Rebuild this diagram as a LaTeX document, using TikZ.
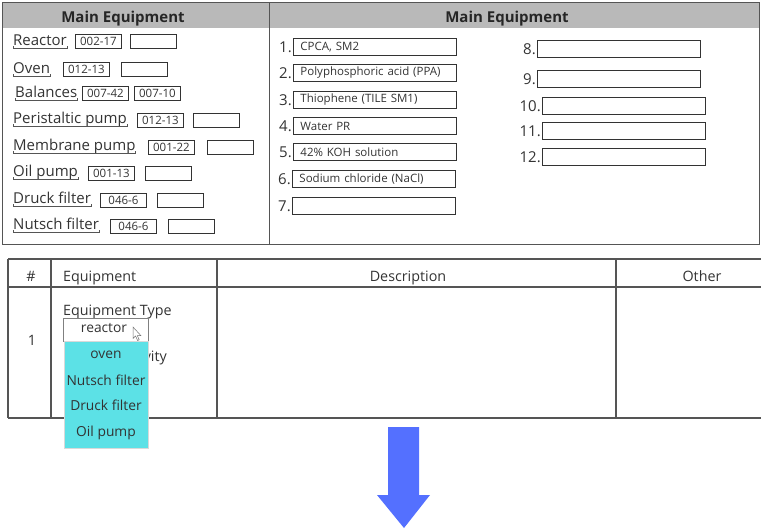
\documentclass[tikz,border=0pt]{standalone}
\usepackage{fontspec}
\setmainfont{Open Sans}
\usetikzlibrary{positioning}
\definecolor{txt}{HTML}{333333}
\definecolor{rulegray}{HTML}{555555}
\definecolor{headgray}{HTML}{B9B9B9}
\definecolor{listcyan}{HTML}{5CE1E6}
\definecolor{arrowblue}{HTML}{5470FF}
\tikzset{
  lbl/.style={inner sep=0pt, anchor=base west, text=txt, font=\fontsize{15}{17}\selectfont},
  head/.style={inner sep=0pt, anchor=base, text=black!85, font=\bfseries\fontsize{15}{17}\selectfont},
  idbox/.style={draw=black!80, line width=0.9pt, minimum width=46pt, minimum height=14pt,
    inner sep=0pt, anchor=north west, text=txt, font=\fontsize{11.5}{13}\selectfont},
  chembox/.style={draw=black!80, line width=0.9pt, minimum height=17pt, text width=149pt,
    inner xsep=7pt, inner ysep=0pt, align=left, anchor=north west, text=txt,
    font=\fontsize{11.5}{13}\selectfont},
  numlbl/.style={inner sep=0pt, text=txt, font=\fontsize{15}{17}\selectfont},
  uline/.style={draw=rulegray, line width=0.9pt},
  panel/.style={draw=rulegray, line width=1pt},
  grid/.style={draw=rulegray, line width=1.4pt},
  cell/.style={inner sep=0pt, anchor=base, text=txt, font=\fontsize{14.3}{17}\selectfont},
  item/.style={inner sep=0pt, anchor=base, text=txt, font=\fontsize{13.8}{16}\selectfont}
}
\begin{document}
\begin{tikzpicture}[x=1pt,y=-1pt]
  \useasboundingbox (0,0) rectangle (761,528);

  % top panel
  \fill[headgray] (2,2) rectangle (759,28);
  \draw[panel] (2,2) rectangle (759,244);
  \draw[panel] (269,2) -- (269,244);
  \node[head] (hleft) at (123,22) {Main Equipment};
  \node[head] (hright) at (507,22) {Main Equipment};

  % equipment with codes
  \node[lbl] (lreactor) at (13,45) {Reactor};
  \node[idbox] (breactor1) at (75,34) {002-17};
  \node[idbox] (breactor2) at (130,34) {};
  \node[lbl] (loven) at (13,73) {Oven};
  \node[idbox] (boven1) at (63,62) {012-13};
  \node[idbox] (boven2) at (121,62) {};
  \node[lbl] (lbal) at (15,97) {Balances};
  \node[idbox] (bbal1) at (82,86) {007-42};
  \node[idbox] (bbal2) at (134,86) {007-10};
  \node[lbl] (lperi) at (13,123) {Peristaltic pump};
  \node[idbox] (bperi1) at (137,113) {012-13};
  \node[idbox] (bperi2) at (193,113) {};
  \node[lbl] (lmemb) at (13,150) {Membrane pump};
  \node[idbox] (bmemb1) at (148,140) {001-22};
  \node[idbox] (bmemb2) at (207,140) {};
  \node[lbl] (loil) at (13,176) {Oil pump};
  \node[idbox] (boil1) at (88,166) {001-13};
  \node[idbox] (boil2) at (145,166) {};
  \node[lbl] (ldruck) at (13,203) {Druck filter};
  \node[idbox] (bdruck1) at (100,193) {046-6};
  \node[idbox] (bdruck2) at (157,193) {};
  \node[lbl] (lnutsch) at (13,229) {Nutsch filter};
  \node[idbox] (bnutsch1) at (110,219) {046-6};
  \node[idbox] (bnutsch2) at (168,219) {};
  \foreach \n in {lreactor,loven,lbal,lperi,lmemb,loil,ldruck,lnutsch}
    \draw[uline] ([yshift=-1.2pt]\n.base west) -- ([yshift=-3.5pt]\n.base west)
      -- ([yshift=-3.5pt]\n.base east) -- ([yshift=-1.2pt]\n.base east);

  % materials
  \node[chembox] (c1) at (293,38) {CPCA, SM2};
  \node[chembox] (c2) at (293,64) {Polyphosphoric acid (PPA)};
  \node[chembox] (c3) at (293,91) {Thiophene (TILE SM1)};
  \node[chembox] (c4) at (293,117) {Water PR};
  \node[chembox] (c5) at (293,143) {42\% KOH solution};
  \node[chembox] (c6) at (292,170) {Sodium chloride (NaCl)};
  \node[chembox] (c7) at (292,197) {};
  \node[chembox] (c8) at (537,40) {};
  \node[chembox] (c9) at (537,70) {};
  \node[chembox] (c10) at (542,97) {};
  \node[chembox] (c11) at (542,122) {};
  \node[chembox] (c12) at (542,148) {};
  \node[numlbl, left=1pt of c1] (n1) {1.};
  \node[numlbl, left=1pt of c2] (n2) {2.};
  \node[numlbl, left=1pt of c3] (n3) {3.};
  \node[numlbl, left=1pt of c4] (n4) {4.};
  \node[numlbl, left=1pt of c5] (n5) {5.};
  \node[numlbl, left=1pt of c6] (n6) {6.};
  \node[numlbl, left=1pt of c7] (n7) {7.};
  \node[numlbl, left=1pt of c8] (n8) {8.};
  \node[numlbl, left=1pt of c9] (n9) {9.};
  \node[numlbl, left=1pt of c10] (n10) {10.};
  \node[numlbl, left=1pt of c11] (n11) {11.};
  \node[numlbl, left=1pt of c12] (n12) {12.};

  % table
  \draw[grid] (8,259) -- (761,259);
  \draw[grid] (8,287) -- (761,287);
  \draw[grid] (8,418) -- (761,418);
  \draw[grid] (8,259) -- (8,418);
  \draw[grid] (51,259) -- (51,418);
  \draw[grid] (217,259) -- (217,418);
  \draw[grid] (616,259) -- (616,418);
  \node[cell] (thash) at (31,281) {\#};
  \node[cell, anchor=base west] (tequip) at (63,281) {Equipment};
  \node[cell] (tdesc) at (408,281) {Description};
  \node[cell] (tother) at (702,281) {Other};
  \node[cell] (tone) at (32,345) {1};
  \node[cell, anchor=base west] (ttype) at (63,315) {Equipment Type};
  \node[cell, anchor=base east] (tact) at (167,361) {Activity};

  % dropdown
  \draw[draw=black!50, fill=white, line width=0.8pt] (63,318) rectangle (148,341);
  \node[item] (sel) at (104,332) {reactor};
  \filldraw[fill=white, draw=black!55, line width=0.5pt]
    (133,327) -- (133,338.5) -- (135.6,336) -- (137.6,340.5) -- (139.2,339.8)
    -- (137.3,335.5) -- (140.8,335.5) -- cycle;
  \filldraw[fill=listcyan, draw=black!15, line width=0.8pt] (64,341) rectangle (148,448);
  \node[item] (ioven) at (106,358) {oven};
  \node[item] (inutsch) at (106,385) {Nutsch filter};
  \node[item] (idruck) at (106,410) {Druck filter};
  \node[item] (ioil) at (106,436) {Oil pump};

  % arrow
  \fill[arrowblue] (388,427) -- (419,427) -- (419,495) -- (430,495) -- (404,528)
    -- (377,495) -- (388,495) -- cycle;
\end{tikzpicture}
\end{document}
